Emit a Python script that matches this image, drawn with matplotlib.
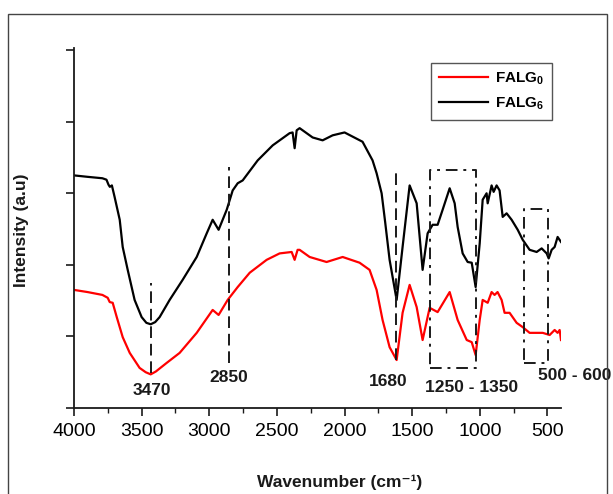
import matplotlib
matplotlib.use("Agg")
import matplotlib.pyplot as plt
from matplotlib.patches import Rectangle

# FTIR spectra (arbitrary intensity units)
falg6_wn = [4000, 3900, 3790, 3760, 3745, 3735, 3720, 3700, 3662, 3640,
            3603, 3552, 3500, 3465, 3433, 3400, 3367, 3293, 3197, 3093, 3019, 2975,
            2931, 2871, 2827, 2790, 2753, 2642, 2531, 2406, 2384, 2369,
            2354, 2332, 2236, 2162, 2088, 2000, 1867, 1793, 1763, 1726,
            1700, 1667, 1615, 1571, 1519, 1467, 1423, 1386, 1349, 1312,
            1275, 1223, 1186, 1164, 1127, 1090, 1060, 1031, 1001, 979,
            950, 942, 913, 898, 876, 854, 831, 802, 765, 720,
            683, 632, 580, 543, 506, 491, 469, 447, 425, 400]
falg6_int = [3.25, 3.23, 3.21, 3.19, 3.12, 3.09, 3.11, 2.95, 2.63, 2.25,
             1.93, 1.51, 1.27, 1.19, 1.17, 1.20, 1.27, 1.51, 1.79, 2.11, 2.44, 2.63,
             2.49, 2.77, 3.04, 3.14, 3.18, 3.46, 3.67, 3.84, 3.85, 3.63,
             3.88, 3.91, 3.78, 3.74, 3.81, 3.85, 3.72, 3.46, 3.28, 3.00,
             2.60, 2.07, 1.51, 2.25, 3.11, 2.86, 1.93, 2.44, 2.56, 2.56,
             2.77, 3.07, 2.86, 2.53, 2.16, 2.04, 2.03, 1.69, 2.30, 2.91,
             3.00, 2.86, 3.11, 3.02, 3.11, 3.04, 2.67, 2.72, 2.63, 2.49,
             2.35, 2.21, 2.18, 2.23, 2.16, 2.09, 2.21, 2.25, 2.39, 2.32]

falg0_wn = [4000, 3900, 3790, 3751, 3736, 3714, 3684, 3640, 3588, 3515,
            3470, 3433, 3395, 3315, 3219, 3093, 2975, 2931, 2864, 2790, 2701, 2576,
            2480, 2391, 2369, 2347, 2332, 2258, 2133, 2014, 1889, 1815,
            1763, 1719, 1667, 1615, 1571, 1519, 1467, 1423, 1371, 1312,
            1223, 1164, 1097, 1060, 1031, 1001, 979, 942, 913, 891,
            869, 839, 817, 780, 728, 683, 632, 580, 535, 484,
            447, 425, 410, 400]
falg0_int = [1.65, 1.62, 1.58, 1.54, 1.48, 1.47, 1.27, 0.99, 0.77, 0.56,
             0.50, 0.47, 0.51, 0.63, 0.77, 1.05, 1.37, 1.30, 1.51, 1.69, 1.89, 2.07,
             2.16, 2.18, 2.07, 2.21, 2.21, 2.11, 2.04, 2.11, 2.03, 1.93,
             1.65, 1.23, 0.85, 0.67, 1.33, 1.72, 1.41, 0.95, 1.40, 1.34,
             1.62, 1.23, 0.95, 0.92, 0.74, 1.23, 1.51, 1.47, 1.62, 1.58,
             1.62, 1.51, 1.33, 1.33, 1.19, 1.13, 1.05, 1.05, 1.05, 1.02,
             1.09, 1.05, 1.09, 0.95]

# marked bands
peak_wn = [3433, 2857, 1617]
peak_top = [1.75, 3.37, 3.32]
peak_bottom = [0.49, 0.63, 0.67]
peak_labels = ["3470", "2850", "1680"]
peak_label_x = [3426, 2856, 1681]
peak_label_y = [0.25, 0.42, 0.37]

box_left = [1366, 674]
box_right = [1026, 497]
box_bottom = [0.56, 0.63]
box_top = [3.32, 2.78]
box_labels = ["1250 - 1350", "500 - 600"]
box_label_x = [1061, 299]
box_label_y = [0.29, 0.46]

plt.rcParams["font.family"] = ["Liberation Sans", "DejaVu Sans"]
plt.rcParams["mathtext.fontset"] = "custom"
plt.rcParams["mathtext.rm"] = "Liberation Sans"
plt.rcParams["mathtext.bf"] = "Liberation Sans:bold"

W, H = 613, 494
fig = plt.figure(figsize=(W / 100, H / 100), dpi=100)
ax = fig.add_axes([74 / W, 1 - 408 / H, (561 - 74) / W, 360 / H])

ax.plot(falg0_wn, falg0_int, color="#ff0000", lw=1.6, label=r"FALG$_\mathbf{0}$")
ax.plot(falg6_wn, falg6_int, color="black", lw=1.6, label=r"FALG$_\mathbf{6}$")

ink = "#1a1a1a"
for w, t, b, lab, lx, ly in zip(peak_wn, peak_top, peak_bottom, peak_labels,
                                peak_label_x, peak_label_y):
    ax.plot([w, w], [b, t], color=ink, lw=1.4, dashes=(6, 3))
    ax.text(lx, ly, lab, ha="center", va="center", fontsize=12.5,
            fontweight="bold", color=ink)

for l, r, b, t, lab, lx, ly in zip(box_left, box_right, box_bottom, box_top,
                                   box_labels, box_label_x, box_label_y):
    ax.plot([l, r, r, l, l], [b, b, t, t, b], color=ink, lw=1.4,
            dashes=(6, 3, 1.5, 3))
    ax.text(lx, ly, lab, ha="center", va="center", fontsize=12.5,
            fontweight="bold", color=ink, clip_on=False)

ax.set_xlim(4000, 400)
ax.set_ylim(0, 5.03)
ax.set_xticks([4000, 3500, 3000, 2500, 2000, 1500, 1000, 500])
ax.set_xticks([3750, 3250, 2750, 2250, 1750, 1250, 750], minor=True)
ax.set_yticks([0, 1, 2, 3, 4, 5])
ax.set_yticklabels([])
for side in ("top", "right"):
    ax.spines[side].set_visible(False)
for side in ("left", "bottom"):
    ax.spines[side].set_linewidth(1.3)
    ax.spines[side].set_color(ink)
ax.tick_params(axis="both", which="major", direction="out", length=6,
               width=1.2, color=ink, labelsize=14, pad=5)
ax.tick_params(axis="x", which="minor", direction="out", length=3.5,
               width=1.0, color=ink)

leg = ax.legend(loc="upper left", bbox_to_anchor=(431 / W, 1 - 63 / H),
                bbox_transform=fig.transFigure, borderaxespad=0,
                fancybox=False, edgecolor="#555555", framealpha=1,
                prop={"size": 11, "weight": "bold"}, handlelength=3.2,
                handletextpad=0.5, labelspacing=0.55, borderpad=0.5)
leg.get_frame().set_linewidth(1.0)

fig.text(22 / W, 1 - 230 / H, "Intensity (a.u)", rotation=90, ha="center",
         va="center", fontsize=12.5, fontweight="bold", color=ink)
fig.text(340 / W, 1 - 482 / H, "Wavenumber (cm\u207b\u00b9)", ha="center",
         va="center", fontsize=12.5, fontweight="bold", color=ink)

fig.add_artist(Rectangle((8 / W, -0.1), (607 - 8) / W, 0.1 + 1 - 14 / H,
                         transform=fig.transFigure, fill=False,
                         edgecolor="#444444", lw=1.0))

fig.savefig("out.png", dpi=100, facecolor="white")
